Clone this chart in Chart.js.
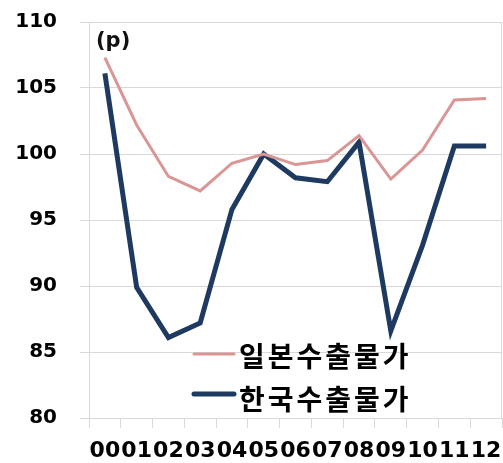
<!DOCTYPE html>
<html>
<head>
<meta charset="utf-8">
<script src="https://cdn.jsdelivr.net/npm/chart.js@4"></script>
<style>
  html, body { margin: 0; padding: 0; background: #fff; }
  #wrap { width: 503px; height: 463px; }
</style>
</head>
<body>
<div id="wrap"><canvas id="lineChart" width="503" height="463"></canvas></div>
<script>
// data
var years = ["00","01","02","03","04","05","06","07","08","09","10","11","12"];
var japanExport = [107.3, 102.2, 98.3, 97.2, 99.3, 100.0, 99.2, 99.5, 101.4, 98.1, 100.3, 104.1, 104.2];
var koreaExport = [106.1, 89.9, 86.1, 87.2, 95.8, 100.0, 98.2, 97.9, 100.9, 86.6, 93.1, 100.6, 100.6];
var seriesNames = ["일본수출물가", "한국수출물가"];
var yTicks = [80, 85, 90, 95, 100, 105, 110];

var gridColor = "#d9d9d9";

// legend inside the plot + "(p)" unit + right border
var extras = {
  id: 'extras',
  afterDraw: function (chart) {
    var ctx = chart.ctx;
    var area = chart.chartArea;
    ctx.save();
    ctx.strokeStyle = gridColor;
    ctx.lineWidth = 1;
    ctx.beginPath();
    ctx.moveTo(area.right - 0.5, area.top);
    ctx.lineTo(area.right - 0.5, area.bottom);
    ctx.stroke();

    ctx.fillStyle = "#111";
    ctx.font = "bold 21px 'DejaVu Sans'";
    ctx.textBaseline = "middle";
    ctx.fillText("(p)", 96, 42);

    var lineY = [354, 394];
    var textY = [356, 399];
    chart.data.datasets.forEach(function (ds, i) {
      ctx.strokeStyle = ds.borderColor;
      ctx.lineWidth = ds.borderWidth;
      ctx.lineCap = "round";
      ctx.beginPath();
      ctx.moveTo(194, lineY[i]);
      ctx.lineTo(234, lineY[i]);
      ctx.stroke();
      ctx.fillStyle = "#000";
      ctx.font = "bold 28px 'Noto Sans CJK KR'";
      ctx.letterSpacing = "3px";
      ctx.fillText(ds.label, 239, textY[i]);
      ctx.letterSpacing = "0px";
    });
    ctx.restore();
  }
};

var ctxL = document.getElementById("lineChart").getContext('2d');
var myLineChart = new Chart(ctxL, {
  type: 'line',
  data: {
    labels: years,
    datasets: [{
      label: seriesNames[0],
      data: japanExport,
      borderColor: "#d99694",
      borderWidth: 3,
      pointRadius: 0,
      tension: 0
    }, {
      label: seriesNames[1],
      data: koreaExport,
      borderColor: "#1f3a60",
      borderWidth: 5,
      pointRadius: 0,
      tension: 0
    }]
  },
  options: {
    responsive: false,
    animation: false,
    layout: { padding: { top: 22, right: 1, left: 0, bottom: 0 } },
    plugins: {
      legend: { display: false },
      tooltip: { enabled: false }
    },
    scales: {
      x: {
        offset: true,
        grid: { offset: true, drawOnChartArea: false, color: gridColor, tickLength: 10 },
        border: { color: gridColor },
        ticks: {
          autoSkip: false, maxRotation: 0, padding: 10, color: "#000",
          font: { family: "'DejaVu Sans'", size: 22, weight: 'bold' }
        },
        afterFit: function (scale) {
          scale.height = 45;
          scale.paddingLeft = 0;
          scale.paddingRight = 0;
        }
      },
      y: {
        min: 80, max: 110,
        afterBuildTicks: function (scale) {
          scale.ticks = yTicks.map(function (v) { return { value: v }; });
        },
        grid: { color: gridColor, tickLength: 9 },
        border: { color: gridColor },
        ticks: {
          padding: 23, color: "#000",
          font: { family: "'DejaVu Sans'", size: 20, weight: 'bold' }
        },
        afterFit: function (scale) {
          scale.width = 89;
          scale.paddingTop = 0;
          scale.paddingBottom = 0;
        }
      }
    }
  },
  plugins: [extras]
});
</script>
</body>
</html>
